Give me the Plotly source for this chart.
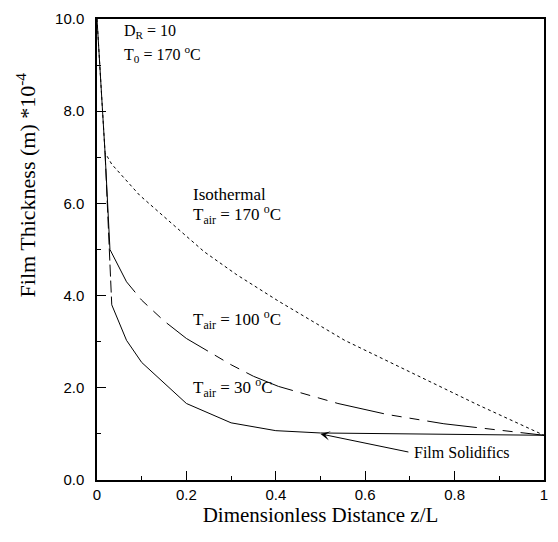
import plotly.graph_objects as go

# Data
x_iso = [0.0, 0.018, 0.033, 0.095, 0.169, 0.24, 0.313, 0.406, 0.554, 0.7, 0.85, 1.0]
y_iso = [10.0, 7.1, 6.85, 6.18, 5.55, 4.95, 4.45, 3.88, 3.03, 2.35, 1.64, 0.97]

x_100 = [0.0, 0.018, 0.029, 0.066, 0.1, 0.15, 0.2, 0.3, 0.35, 0.406, 0.539, 0.65, 0.776, 0.9, 1.0]
y_100 = [10.0, 7.1, 5.0, 4.3, 3.9, 3.45, 3.07, 2.5, 2.25, 2.03, 1.66, 1.42, 1.22, 1.08, 0.97]

x_30 = [0.0, 0.018, 0.033, 0.066, 0.1, 0.2, 0.3, 0.4, 0.5, 0.6, 0.7, 0.8, 0.9, 1.0]
y_30 = [10.0, 7.1, 3.8, 3.03, 2.55, 1.66, 1.24, 1.07, 1.02, 1.01, 1.0, 0.99, 0.98, 0.97]

x_ticks = [0, 0.2, 0.4, 0.6, 0.8, 1.0]
x_ticklabels = ["0", "0.2", "0.4", "0.6", "0.8", "1"]
y_ticks = [0, 2, 4, 6, 8, 10]
y_ticklabels = ["0.0", "2.0", "4.0", "6.0", "8.0", "10.0"]

fig = go.Figure()
fig.add_trace(go.Scatter(x=x_iso, y=y_iso, mode="lines",
                         line=dict(color="black", width=1, dash="dot"), showlegend=False))
# T_air = 100: solid in the steep drop, long-short dashes afterwards
fig.add_trace(go.Scatter(x=x_100[:3], y=y_100[:3], mode="lines",
                         line=dict(color="black", width=1), showlegend=False))
fig.add_trace(go.Scatter(x=x_100[2:], y=y_100[2:], mode="lines",
                         line=dict(color="black", width=1, dash="50px,8px,10px,8px,10px,8px"),
                         showlegend=False))
# T_air = 30: dashed in the steep drop, solid afterwards
fig.add_trace(go.Scatter(x=x_30[1:3], y=y_30[1:3], mode="lines",
                         line=dict(color="black", width=1, dash="12px,4px"), showlegend=False))
fig.add_trace(go.Scatter(x=x_30[2:], y=y_30[2:], mode="lines",
                         line=dict(color="black", width=1), showlegend=False))

serif = "Liberation Serif, DejaVu Serif, serif"
sans = "Liberation Sans, DejaVu Sans, sans-serif"

def txt(x, y, s, size=17):
    fig.add_annotation(x=x, y=y, text=s, showarrow=False, xanchor="left", yanchor="middle",
                       font=dict(family=serif, size=size, color="black"))

txt(0.055, 9.72, "D<sub>R</sub> = 10", 16)
txt(0.055, 9.25, "T<sub>0</sub> = 170 <sup>o</sup>C", 16)
txt(0.21, 6.2, "Isothermal")
txt(0.21, 5.75, "T<sub>air</sub> = 170 <sup>o</sup>C")
txt(0.21, 3.48, "T<sub>air</sub> = 100 <sup>o</sup>C")
txt(0.21, 2.0, "T<sub>air</sub> = 30 <sup>o</sup>C")

fig.add_annotation(x=0.5, y=1.0, ax=0.7, ay=0.6, axref="x", ayref="y",
                   text="", showarrow=True, arrowhead=3, arrowsize=1.6, arrowwidth=1,
                   arrowcolor="black", standoff=0)
fig.add_annotation(x=0.705, y=0.6, text="Film Solidifics", showarrow=False,
                   xanchor="left", yanchor="middle",
                   font=dict(family=serif, size=16, color="black"))

# y-axis title drawn as rotated text (positioned above centre as in reference)
fig.add_annotation(xref="paper", yref="paper", x=-0.16, y=0.64,
                   text="Film Thickness (m) *10<sup>-4</sup>", textangle=-90, showarrow=False,
                   xanchor="center", yanchor="middle",
                   font=dict(family=serif, size=22, color="black"))

fig.update_layout(
    width=558, height=542,
    margin=dict(l=97, r=10, t=11, b=62),
    paper_bgcolor="white", plot_bgcolor="white",
    font=dict(family=sans, color="black"),
)
fig.update_xaxes(range=[0, 1], tickvals=x_ticks, ticktext=x_ticklabels,
                 ticks="inside", ticklen=9, tickwidth=1, tickcolor="black",
                 minor=dict(ticks="inside", ticklen=4, dtick=0.1, tickcolor="black"),
                 showline=True, linecolor="black", linewidth=1.5, mirror=True,
                 showgrid=False, zeroline=False,
                 tickfont=dict(family=sans, size=15, color="black"),
                 title=dict(text="Dimensionless Distance z/L", font=dict(family=serif, size=21, color="black"),
                            standoff=6))
fig.update_yaxes(range=[0, 10], tickvals=y_ticks, ticktext=y_ticklabels,
                 ticks="inside", ticklen=9, tickwidth=1, tickcolor="black",
                 minor=dict(ticks="inside", ticklen=4, dtick=1, tickcolor="black"),
                 showline=True, linecolor="black", linewidth=1.5, mirror=True,
                 showgrid=False, zeroline=False, ticklabelstandoff=8,
                 tickfont=dict(family=sans, size=15, color="black"))

fig.write_html("out.html")
